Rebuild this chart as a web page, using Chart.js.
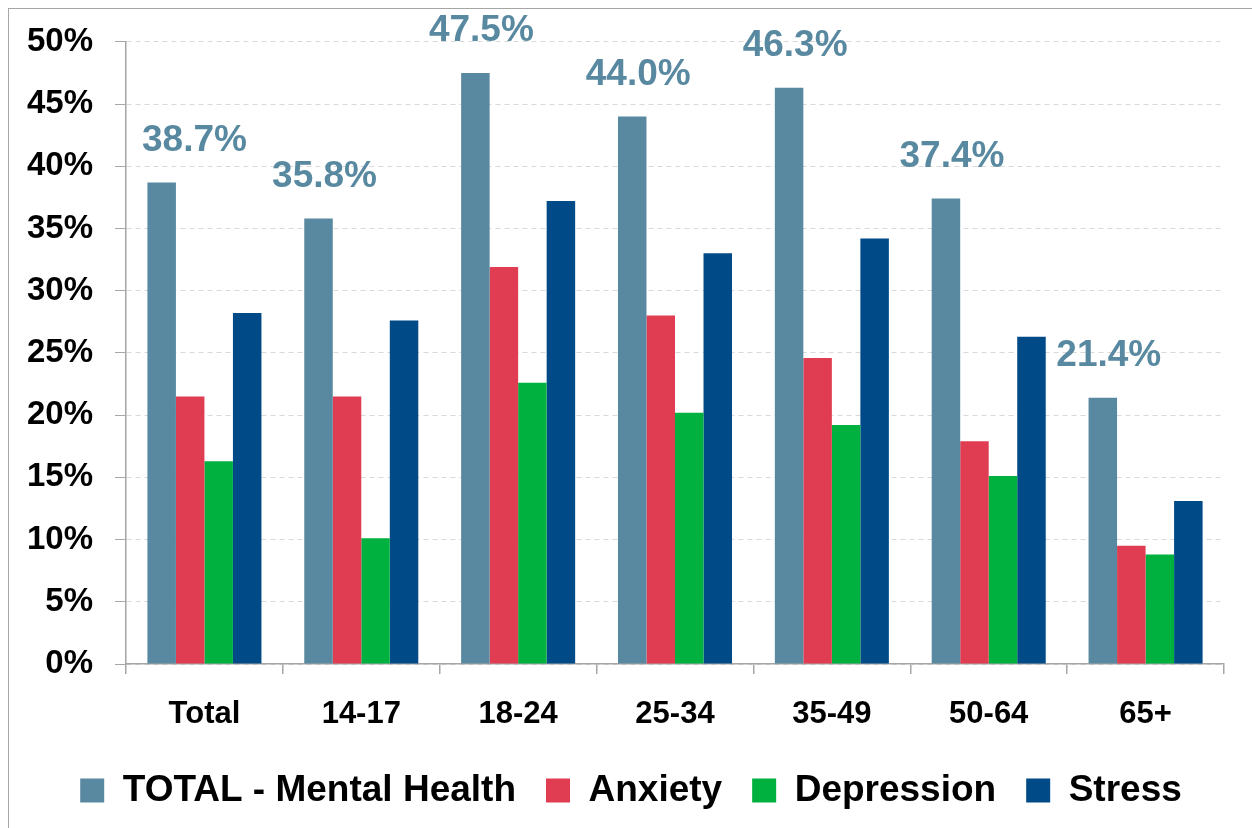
<!DOCTYPE html>
<html>
<head>
<meta charset="utf-8">
<title>Mental health by age</title>
<script src="https://cdn.jsdelivr.net/npm/chart.js@4/dist/chart.umd.min.js"></script>
<style>
  html, body { margin: 0; padding: 0; background: #fff; overflow: hidden; }
  #wrap { position: relative; width: 1252px; height: 828px; }
  #frame { position: absolute; left: 8px; top: 8px; width: 1300px; height: 900px; border: 1px solid #a6a6a6; }
  canvas { position: absolute; left: 0; top: 0; }
</style>
</head>
<body>
<div id="wrap">
  <div id="frame"></div>
  <canvas id="mhChart" width="1252" height="828"></canvas>
</div>
<script>
const categories = ["Total", "14-17", "18-24", "25-34", "35-49", "50-64", "65+"];
const totalMental = [38.7, 35.8, 47.5, 44.0, 46.3, 37.4, 21.4];
const anxiety = [21.5, 21.5, 31.9, 28.0, 24.6, 17.9, 9.5];
const depression = [16.3, 10.1, 22.6, 20.2, 19.2, 15.1, 8.8];
const stress = [28.2, 27.6, 37.2, 33.0, 34.2, 26.3, 13.1];

const FONT = "'Liberation Sans', Arial, sans-serif";
const LABEL_COLOR = "#5889a0";

// value labels above the TOTAL bars only
const totalLabels = {
  id: "totalLabels",
  afterDatasetsDraw(chart) {
    const { ctx, chartArea } = chart;
    const meta = chart.getDatasetMeta(0);
    ctx.save();
    ctx.font = "bold 37px " + FONT;
    ctx.fillStyle = LABEL_COLOR;
    ctx.textBaseline = "middle";
    ctx.textAlign = "center";
    meta.data.forEach((bar, i) => {
      const text = totalMental[i].toFixed(1) + "%";
      const w = ctx.measureText(text).width;
      let x = bar.x + 6;
      if (x - w / 2 < chartArea.left + 16) x = chartArea.left + 16 + w / 2;
      ctx.fillText(text, x, bar.y - 42);
    });
    ctx.restore();
  }
};

// fixed legend height, then nudge it down/right like the original
const legendPlace = {
  id: "legendPlace",
  beforeLayout(chart) {
    const lg = chart.legend;
    if (!lg || lg._fixed) return;
    const fit = lg.fit.bind(lg);
    lg.fit = function () { fit(); this.height = 92; };
    lg._fixed = true;
  },
  afterLayout(chart) {
    const lg = chart.legend;
    lg.top += 6;
    lg.bottom += 6;
    lg.left += 14;
    lg.right += 14;
  }
};

const ctx = document.getElementById("mhChart").getContext("2d");

new Chart(ctx, {
  type: "bar",
  data: {
    labels: categories,
    datasets: [
      { label: "TOTAL - Mental Health", data: totalMental, backgroundColor: "#5889a0" },
      { label: "Anxiety", data: anxiety, backgroundColor: "#e03c52" },
      { label: "Depression", data: depression, backgroundColor: "#00b140" },
      { label: "Stress", data: stress, backgroundColor: "#004a87" }
    ]
  },
  options: {
    responsive: false,
    animation: false,
    categoryPercentage: 0.727,
    barPercentage: 1.0,
    layout: { padding: { left: 10, right: 28, top: 37, bottom: 0 } },
    plugins: {
      tooltip: { enabled: false },
      legend: {
        position: "bottom",
        labels: {
          font: { family: FONT, size: 37, weight: "bold" },
          color: "#000",
          boxWidth: 24,
          boxHeight: 24,
          padding: 30
        }
      }
    },
    scales: {
      x: {
        afterFit(scale) { scale.height = 72; },
        grid: {
          display: true,
          drawOnChartArea: false,
          drawTicks: true,
          tickLength: 10,
          color: "#a6a6a6",
          lineWidth: 1.5
        },
        border: { color: "#a6a6a6", width: 1.5 },
        ticks: {
          font: { family: FONT, size: 31, weight: "bold" },
          color: "#000",
          padding: 22,
          maxRotation: 0
        }
      },
      y: {
        min: 0,
        max: 50,
        afterFit(scale) { scale.width = 116; },
        grid: {
          color: "#d9d9d9",
          lineWidth: 1,
          tickColor: "#a6a6a6",
          tickLength: 11,
          tickBorderDash: [],
          drawTicks: true
        },
        border: { color: "#a6a6a6", width: 1.5, dash: [5, 4] },
        ticks: {
          stepSize: 5,
          font: { family: FONT, size: 33, weight: "bold" },
          color: "#000",
          padding: 22,
          callback: v => v + "%"
        }
      }
    }
  },
  plugins: [legendPlace, totalLabels]
});
</script>
</body>
</html>
